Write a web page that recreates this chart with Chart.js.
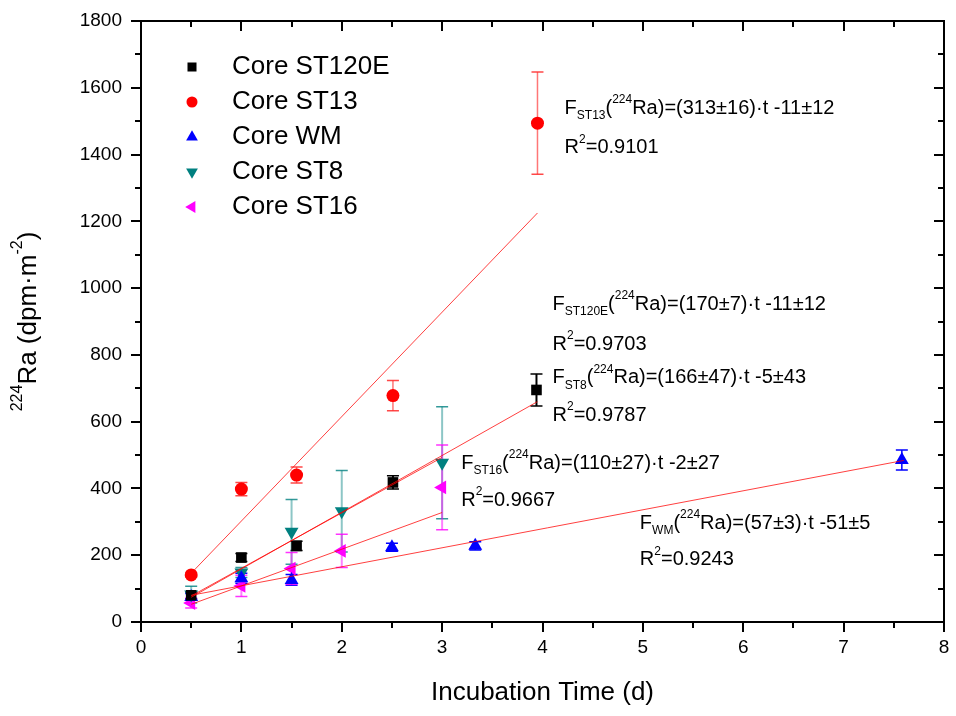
<!DOCTYPE html>
<html>
<head>
<meta charset="utf-8">
<script src="https://cdn.jsdelivr.net/npm/chart.js@4.4.1/dist/chart.umd.min.js"></script>
<style>
html,body{margin:0;padding:0;background:#fff;}
canvas{display:block;}
</style>
</head>
<body>
<canvas id="c" width="956" height="716"></canvas>
<script>
// ---- data ----
const st120eX = [0.5, 1.0, 1.55, 2.51, 3.94];
const st120eY = [80, 193, 228, 418, 695];
const st120eErr = [10, 12, 14, 20, 48];

const st13X = [0.5, 1.0, 1.55, 2.51, 3.95];
const st13Y = [141, 398, 440, 678, 1494];
const st13Err = [6, 20, 24, 45, 153];

const wmX = [0.5, 1.0, 1.5, 2.5, 3.33, 7.58];
const wmY = [75, 131, 126, 224, 228, 485];
const wmErr = [10, 15, 16, 12, 12, 30];

const st8X = [0.5, 1.0, 1.5, 2.0, 3.0];
const st8Y = [82, 148, 270, 332, 477];
const st8Err = [25, 15, 97, 122, 168];

const st16X = [0.5, 1.0, 1.5, 2.0, 3.0];
const st16Y = [57, 108, 160, 213, 403];
const st16Err = [15, 32, 48, 50, 127];

// fitted line end points
const fitST13X = [0.5, 3.95];   const fitST13Y = [146, 1225];
const fitST120EX = [0.5, 3.95]; const fitST120EY = [74, 660];
const fitST8X = [0.5, 3.0];     const fitST8Y = [78, 493];
const fitST16X = [0.5, 3.0];    const fitST16Y = [53, 328];
const fitWMX = [0.5, 7.6];      const fitWMY = [80, 484];

const xTicks = [0, 1, 2, 3, 4, 5, 6, 7, 8];
const yTicks = [0, 200, 400, 600, 800, 1000, 1200, 1400, 1600, 1800];

const legendNames = ['Core ST120E', 'Core ST13', 'Core WM', 'Core ST8', 'Core ST16'];

// ---- helpers ----
const FONT = '"Liberation Sans", Arial, sans-serif';
const pts = (xs, ys) => xs.map((x, i) => ({x: x, y: ys[i]}));

const series = [
  {label: legendNames[0], x: st120eX, y: st120eY, err: st120eErr, color: '#000000', style: 'rect', r: 7.5, rot: 0, bar: '#000000', cap: '#000000', bw: 2},
  {label: legendNames[1], x: st13X, y: st13Y, err: st13Err, color: '#ff0000', style: 'circle', r: 6.5, rot: 0, bar: 'rgba(255,60,60,0.7)', cap: 'rgba(255,40,40,0.85)', bw: 1.5},
  {label: legendNames[2], x: wmX, y: wmY, err: wmErr, color: '#0000ff', style: 'triangle', r: 8, rot: 0, bar: '#0000ff', cap: '#0000ff', bw: 1.5},
  {label: legendNames[3], x: st8X, y: st8Y, err: st8Err, color: '#008080', style: 'triangle', r: 8, rot: 180, bar: 'rgba(0,128,128,0.45)', cap: 'rgba(0,128,128,0.8)', bw: 2},
  {label: legendNames[4], x: st16X, y: st16Y, err: st16Err, color: '#ff00ff', style: 'triangle', r: 8, rot: -90, bar: 'rgba(255,0,255,0.5)', cap: 'rgba(255,0,255,0.8)', bw: 2}
];

const fits = [
  pts(fitST13X, fitST13Y), pts(fitST120EX, fitST120EY), pts(fitST8X, fitST8Y),
  pts(fitST16X, fitST16Y), pts(fitWMX, fitWMY)
];

const datasets = [];
fits.forEach(f => datasets.push({
  data: f, showLine: true, pointRadius: 0, borderColor: 'rgba(255,0,0,0.75)', borderWidth: 1,
  fill: false
}));
series.forEach(s => datasets.push({
  label: s.label, data: pts(s.x, s.y), showLine: false,
  pointStyle: s.style, pointRadius: s.r, pointRotation: s.rot,
  backgroundColor: s.color, borderColor: s.color, borderWidth: 0,
  errs: s.err, barColor: s.bar, capColor: s.cap, barWidth: s.bw
}));

// annotation texts (anchors in data units)
const annotations = [
  {x: 4.22, y: 1539, sub: 'ST13', rest: 'Ra)=(313\u00b116)\u00b7t -11\u00b112', r2: '0.9101', ry: 1420},
  {x: 4.10, y: 952, sub: 'ST120E', rest: 'Ra)=(170\u00b17)\u00b7t -11\u00b112', r2: '0.9703', ry: 832},
  {x: 4.10, y: 731, sub: 'ST8', rest: 'Ra)=(166\u00b147)\u00b7t -5\u00b143', r2: '0.9787', ry: 620},
  {x: 3.19, y: 476, sub: 'ST16', rest: 'Ra)=(110\u00b127)\u00b7t -2\u00b127', r2: '0.9667', ry: 365},
  {x: 4.97, y: 296, sub: 'WM', rest: 'Ra)=(57\u00b13)\u00b7t -51\u00b15', r2: '0.9243', ry: 186}
];

function drawRich(ctx, x, y, parts, size) {
  let cx = x;
  ctx.textBaseline = 'middle';
  ctx.textAlign = 'left';
  parts.forEach(p => {
    let fs = size, dy = 0;
    if (p.mode === 'sub') { fs = Math.round(size * 0.6); dy = size * 0.38; }
    if (p.mode === 'sup') { fs = Math.round(size * 0.6); dy = -size * 0.42; }
    ctx.font = fs + 'px ' + FONT;
    ctx.fillText(p.t, cx, y + dy);
    cx += ctx.measureText(p.t).width;
  });
  return cx - x;
}
function richWidth(ctx, parts, size) {
  let w = 0;
  parts.forEach(p => {
    const fs = p.mode === 'n' ? size : Math.round(size * 0.6);
    ctx.font = fs + 'px ' + FONT;
    w += ctx.measureText(p.t).width;
  });
  return w;
}

const decoPlugin = {
  id: 'deco',
  beforeDraw(chart) {
    const ctx = chart.ctx;
    ctx.save();
    ctx.fillStyle = '#ffffff';
    ctx.fillRect(0, 0, chart.width, chart.height);
    ctx.restore();
  },
  beforeDatasetsDraw(chart) {
    const ctx = chart.ctx, xs = chart.scales.x, ys = chart.scales.y;
    ctx.save();
    chart.data.datasets.forEach(ds => {
      if (!ds.errs) return;
      ds.data.forEach((p, i) => {
        const e = ds.errs[i];
        const px = xs.getPixelForValue(p.x);
        const y1 = ys.getPixelForValue(p.y + e), y2 = ys.getPixelForValue(p.y - e);
        ctx.strokeStyle = ds.barColor; ctx.lineWidth = ds.barWidth;
        ctx.beginPath(); ctx.moveTo(px, y1); ctx.lineTo(px, y2); ctx.stroke();
        ctx.strokeStyle = ds.capColor; ctx.lineWidth = 1.5;
        ctx.beginPath();
        ctx.moveTo(px - 6, y1); ctx.lineTo(px + 6, y1);
        ctx.moveTo(px - 6, y2); ctx.lineTo(px + 6, y2);
        ctx.stroke();
      });
    });
    ctx.restore();
  },
  afterDraw(chart) {
    const ctx = chart.ctx, xs = chart.scales.x, ys = chart.scales.y, ca = chart.chartArea;
    ctx.save();
    // frame
    ctx.strokeStyle = '#000'; ctx.lineWidth = 2;
    ctx.strokeRect(ca.left, ca.top, ca.right - ca.left, ca.bottom - ca.top);
    // ticks: major at labelled values, minor halfway
    ctx.beginPath();
    for (let k = 0; k <= 16; k++) {
      const px = Math.round(xs.getPixelForValue(k / 2));
      const len = k % 2 === 0 ? 10 : 6;
      ctx.moveTo(px, ca.bottom); ctx.lineTo(px, ca.bottom + len);
      ctx.moveTo(px, ca.top); ctx.lineTo(px, ca.top + len);
    }
    for (let k = 0; k <= 18; k++) {
      const py = Math.round(ys.getPixelForValue(k * 100));
      const len = k % 2 === 0 ? 10 : 6;
      ctx.moveTo(ca.left - len, py); ctx.lineTo(ca.left, py);
      ctx.moveTo(ca.right - len, py); ctx.lineTo(ca.right, py);
    }
    ctx.stroke();

    // legend
    series.forEach((s, i) => {
      const ly = ca.top + 46 + i * 35;
      const lx = ca.left + 51;
      ctx.fillStyle = s.color;
      ctx.strokeStyle = s.color;
      Chart.helpers.drawPoint(ctx, {pointStyle: s.style, radius: s.r * 0.85, rotation: s.rot, borderWidth: 0}, lx, ly);
      ctx.fillStyle = '#000';
      ctx.font = '26px ' + FONT;
      ctx.textBaseline = 'middle'; ctx.textAlign = 'left';
      ctx.fillText(s.label, ca.left + 91, ly);
    });

    // annotations
    ctx.fillStyle = '#000';
    annotations.forEach(a => {
      const ax = xs.getPixelForValue(a.x);
      drawRich(ctx, ax, ys.getPixelForValue(a.y), [
        {t: 'F', mode: 'n'}, {t: a.sub, mode: 'sub'}, {t: '(', mode: 'n'}, {t: '224', mode: 'sup'}, {t: a.rest, mode: 'n'}
      ], 20);
      drawRich(ctx, ax, ys.getPixelForValue(a.ry), [
        {t: 'R', mode: 'n'}, {t: '2', mode: 'sup'}, {t: '=' + a.r2, mode: 'n'}
      ], 20);
    });

    // axis titles
    ctx.font = '26px ' + FONT;
    ctx.textAlign = 'center'; ctx.textBaseline = 'middle';
    ctx.fillText('Incubation Time (d)', (ca.left + ca.right) / 2, 693);

    const yParts = [{t: '224', mode: 'sup'}, {t: 'Ra (dpm\u00b7m', mode: 'n'}, {t: '-2', mode: 'sup'}, {t: ')', mode: 'n'}];
    const w = richWidth(ctx, yParts, 26);
    ctx.translate(29, (ca.top + ca.bottom) / 2);
    ctx.rotate(-Math.PI / 2);
    drawRich(ctx, -w / 2, 0, yParts, 26);
    ctx.restore();
  }
};

new Chart(document.getElementById('c'), {
  type: 'scatter',
  data: {datasets: datasets},
  plugins: [decoPlugin],
  options: {
    responsive: false,
    animation: false,
    layout: {padding: {top: 21, right: 12, left: 0, bottom: 0}},
    plugins: {legend: {display: false}, tooltip: {enabled: false}},
    scales: {
      x: {
        type: 'linear', min: 0, max: 8,
        afterBuildTicks: s => { s.ticks = xTicks.map(v => ({value: v})); },
        ticks: {color: '#000', font: {size: 19, family: FONT}, padding: 14, maxRotation: 0, callback: v => String(v)},
        grid: {display: false, drawTicks: false},
        border: {display: false},
        afterFit: s => { s.height = 94; s.paddingLeft = 0; s.paddingRight = 0; }
      },
      y: {
        type: 'linear', min: 0, max: 1800,
        afterBuildTicks: s => { s.ticks = yTicks.map(v => ({value: v})); },
        ticks: {color: '#000', font: {size: 19, family: FONT}, padding: 19, callback: v => String(v)},
        grid: {display: false, drawTicks: false},
        border: {display: false},
        afterFit: s => { s.width = 141; s.paddingTop = 0; s.paddingBottom = 0; }
      }
    }
  }
});
</script>
</body>
</html>
